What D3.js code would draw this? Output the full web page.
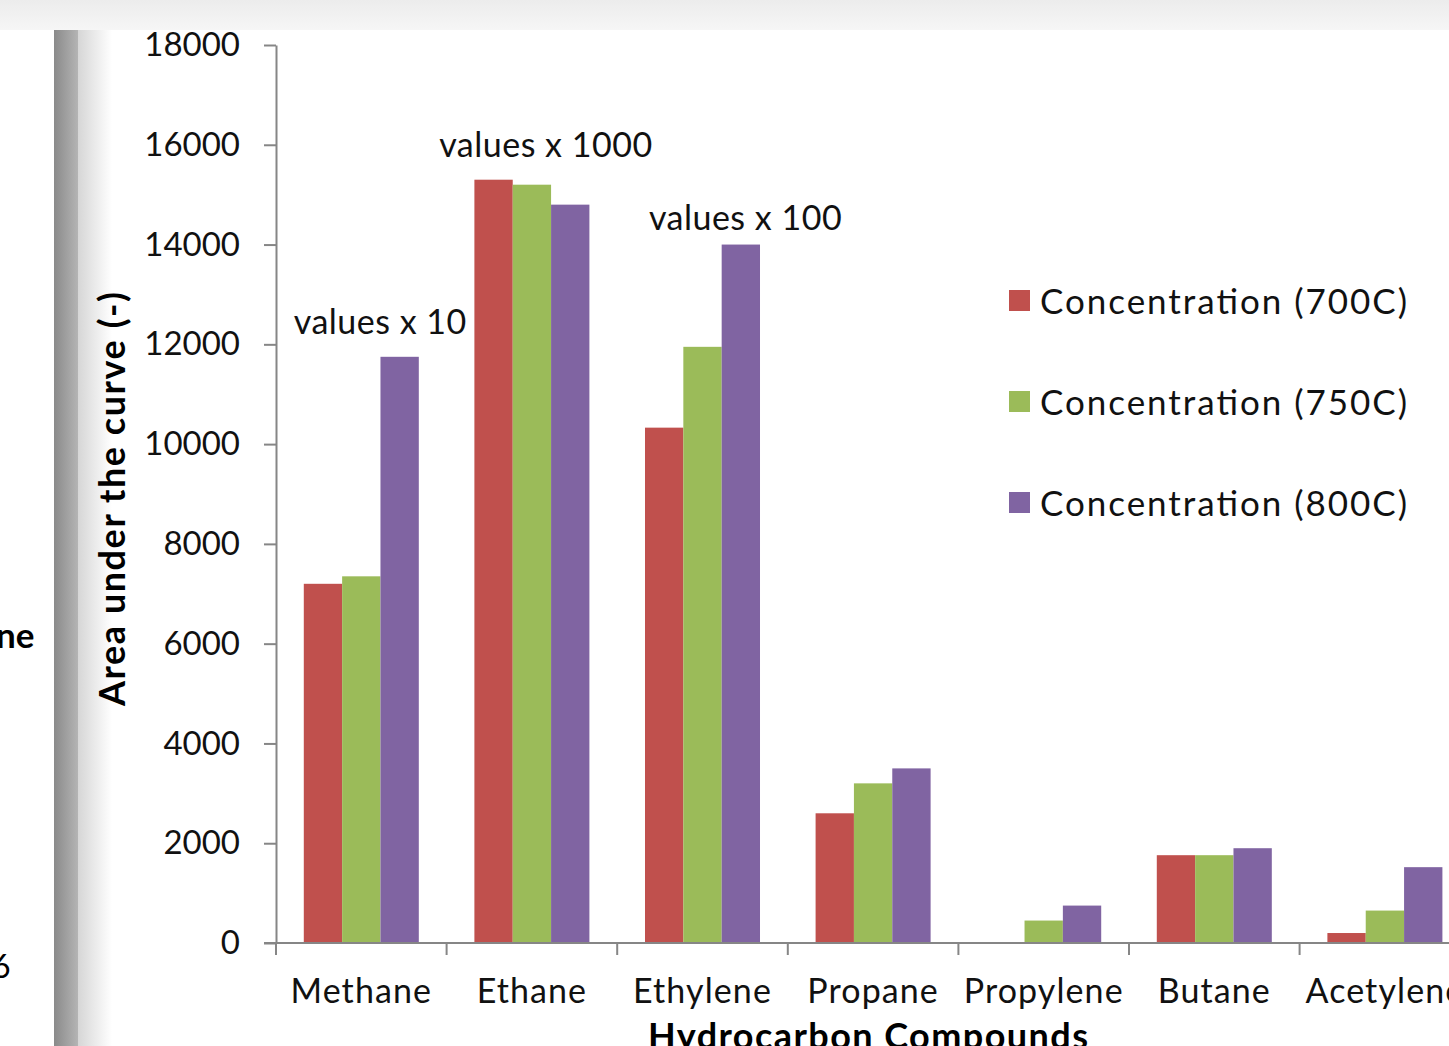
<!DOCTYPE html>
<html>
<head>
<meta charset="utf-8">
<script src="https://cdn.jsdelivr.net/npm/d3@7"></script>
<style>
  body { margin: 0; background: #fff; }
  svg { display: block; font-family: Lato, "Open Sans", sans-serif; }
</style>
</head>
<body>
<div id="chart"></div>
<script>
// data
const categories = ["Methane", "Ethane", "Ethylene", "Propane", "Propylene", "Butane", "Acetylene"];
const seriesNames = ["Concentration (700C)", "Concentration (750C)", "Concentration (800C)"];
const conc700 = [7200, 15300, 10330, 2600, 0, 1760, 200];
const conc750 = [7350, 15200, 11950, 3200, 450, 1760, 650];
const conc800 = [11750, 14800, 14000, 3500, 750, 1900, 1520];
const yTicks = [0, 2000, 4000, 6000, 8000, 10000, 12000, 14000, 16000, 18000];
const noteCats = ["Methane", "Ethane", "Ethylene"];
const noteValues = [11750, 15300, 14000];
const noteTexts = ["values x 10", "values x 1000", "values x 100"];

const colors = ["#c0504d", "#9bbb59", "#8064a2"];
const seriesVals = [conc700, conc750, conc800];

//dims
const width = 1449, height = 1046;
const plotLeft = 276, plotBottom = 943, plotTop = 45;
const step = 170.6;

const svg = d3.select("#chart").append("svg")
    .attr("width", width)
    .attr("height", height);

// screenshot frame: grey strip on top, shadowed panel on the left
const defs = svg.append("defs");
const topGrad = defs.append("linearGradient").attr("id", "topGrad")
    .attr("x1", 0).attr("y1", 0).attr("x2", 0).attr("y2", 1);
topGrad.append("stop").attr("offset", 0).attr("stop-color", "#ececec");
topGrad.append("stop").attr("offset", 1).attr("stop-color", "#f6f6f6");
const sideGrad = defs.append("linearGradient").attr("id", "sideGrad");
sideGrad.append("stop").attr("offset", 0).attr("stop-color", "#8a8a8a");
sideGrad.append("stop").attr("offset", 1).attr("stop-color", "#b4b4b4");
const fadeGrad = defs.append("linearGradient").attr("id", "fadeGrad");
fadeGrad.append("stop").attr("offset", 0).attr("stop-color", "#d6d6d6");
fadeGrad.append("stop").attr("offset", 1).attr("stop-color", "#ffffff");

svg.append("rect").attr("x", 0).attr("y", 0).attr("width", width).attr("height", 30)
    .attr("fill", "url(#topGrad)");
svg.append("rect").attr("x", 54).attr("y", 30).attr("width", 24).attr("height", height - 30)
    .attr("fill", "url(#sideGrad)");
svg.append("rect").attr("x", 78).attr("y", 30).attr("width", 34).attr("height", height - 30)
    .attr("fill", "url(#fadeGrad)");

// bits of the neighbouring panel
svg.append("text").attr("x", -4).attr("y", 648)
    .style("font-size", "35px").style("font-weight", "bold").text("ne");
svg.append("text").attr("x", -8).attr("y", 978)
    .style("font-size", "32px").text("6");

// scales
const x = d3.scaleBand()
    .domain(categories)
    .range([plotLeft, plotLeft + step * categories.length]);

const xs = d3.scaleBand()
    .domain(d3.range(seriesNames.length))
    .range([0, x.bandwidth()])
    .paddingOuter(0.725);

const y = d3.scaleLinear()
    .domain([0, 18000])
    .range([plotBottom, plotTop]);

// y axis
const yAxis = svg.append("g")
    .attr("transform", `translate(${plotLeft},0)`)
    .call(d3.axisLeft(y).tickValues(yTicks).tickSize(12).tickSizeOuter(0).tickPadding(24).tickFormat(d3.format("d")));
yAxis.select(".domain").attr("stroke", "#868686").attr("stroke-width", 2);
yAxis.selectAll(".tick line").attr("stroke", "#868686").attr("stroke-width", 2);
yAxis.selectAll("text").style("font-size", "33px").style("font-family", "Lato").attr("fill", "#111");

// bars
const barData = [];
categories.forEach((c, i) => {
    seriesVals.forEach((vals, s) => barData.push({cat: c, s: s, value: vals[i]}));
});
svg.append("g")
    .selectAll("rect")
    .data(barData.filter(d => d.value > 0))
    .join("rect")
    .attr("x", d => x(d.cat) + xs(d.s))
    .attr("width", xs.bandwidth())
    .attr("y", d => y(d.value))
    .attr("height", d => y(0) - y(d.value))
    .attr("fill", d => colors[d.s]);

// x axis
const xAxis = svg.append("g")
    .attr("transform", `translate(0,${plotBottom})`)
    .call(d3.axisBottom(x).tickSize(0).tickSizeOuter(0));
xAxis.select(".domain").remove();
xAxis.selectAll("text")
    .attr("y", 60).attr("dy", 0)
    .style("font-size", "34px").style("font-family", "Lato")
    .style("letter-spacing", "1.1px")
    .attr("fill", "#111");
xAxis.append("line")
    .attr("x1", plotLeft - 12).attr("x2", width)
    .attr("stroke", "#868686").attr("stroke-width", 2);
xAxis.selectAll(".sep")
    .data(categories)
    .join("line")
    .attr("class", "sep")
    .attr("x1", d => x(d)).attr("x2", d => x(d))
    .attr("y1", 0).attr("y2", 12)
    .attr("stroke", "#868686").attr("stroke-width", 2);

// annotations, nudged to where the original author dropped them
const noteDx = [19, 14, 43];
const noteDy = [23, 23, 15];
svg.append("g")
    .selectAll("text")
    .data(noteTexts)
    .join("text")
    .attr("x", (d, i) => x(noteCats[i]) + x.bandwidth() / 2 + noteDx[i])
    .attr("y", (d, i) => y(noteValues[i]) - noteDy[i])
    .attr("text-anchor", "middle")
    .style("font-size", "34px")
    .style("letter-spacing", "0.5px")
    .attr("fill", "#111")
    .text(d => d);

// axis titles
svg.append("text")
    .attr("transform", `translate(125,499) rotate(-90)`)
    .attr("text-anchor", "middle")
    .attr("textLength", 414).attr("lengthAdjust", "spacing")
    .style("font-size", "36px").style("font-weight", "bold")
    .text("Area under the curve (-)");
svg.append("text")
    .attr("x", 868).attr("y", 1049)
    .attr("text-anchor", "middle")
    .attr("textLength", 440).attr("lengthAdjust", "spacing")
    .style("font-size", "36px").style("font-weight", "bold")
    .text("Hydrocarbon Compounds");

// legend
const legend = svg.append("g")
    .selectAll("g")
    .data(seriesNames)
    .join("g")
    .attr("transform", (d, i) => `translate(1009,${301 + i * 101})`);
legend.append("rect")
    .attr("y", -11).attr("width", 21).attr("height", 21)
    .attr("fill", (d, i) => colors[i]);
legend.append("text")
    .attr("x", 31).attr("y", 13)
    .attr("textLength", 367).attr("lengthAdjust", "spacing")
    .style("font-size", "35px")
    .attr("fill", "#111")
    .text(d => d);
</script>
</body>
</html>
